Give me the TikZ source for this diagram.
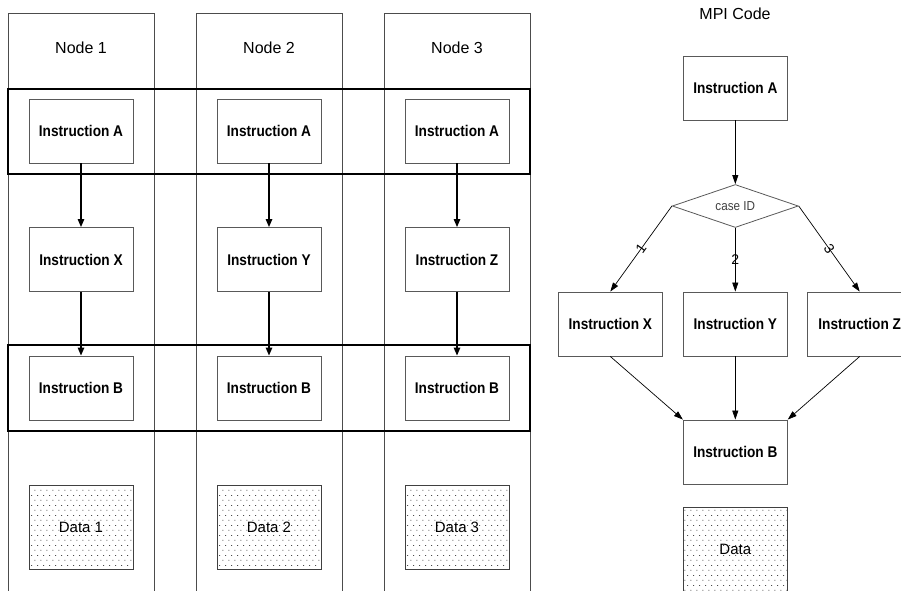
\documentclass[tikz,border=0pt]{standalone}
\usepackage{fontspec}
\setmainfont{Liberation Sans}
\newfontfamily\instrfont[FakeStretch=0.88]{Liberation Sans}
\newfontfamily\casefont[FakeStretch=0.9]{Liberation Sans}
\usetikzlibrary{shapes.geometric,arrows.meta,patterns.meta}

% fine staggered speckle used for the data blocks
\tikzdeclarepattern{
  name=speckle,
  type=uncolored,
  bounding box={(0pt,0pt) and (5.7pt,10pt)},
  tile size={(5.7pt,10pt)},
  code={
    \pgfpathrectangle{\pgfpoint{0.5pt}{0.5pt}}{\pgfpoint{0.9pt}{0.8pt}}
    \pgfpathrectangle{\pgfpoint{3.35pt}{5.5pt}}{\pgfpoint{0.9pt}{0.8pt}}
    \pgfusepath{fill}
  }
}

\begin{document}
\begin{tikzpicture}[x=1pt,y=-1pt,
  lanebox/.style={draw=black!70, line width=0.8pt},
  stage/.style={draw=black, line width=1.6pt},
  instr/.style={draw=black!65, line width=0.9pt, fill=white,
    minimum width=104pt, minimum height=64pt, inner sep=0pt,
    font=\instrfont\bfseries\fontsize{15.5}{18}\selectfont},
  databox/.style={draw=black!75, line width=0.9pt, pattern={speckle},
    pattern color=black!70, minimum width=104pt, minimum height=84pt,
    inner sep=0pt, font=\fontsize{15}{18}\selectfont},
  decide/.style={diamond, draw=black!65, line width=0.8pt, aspect=2.9,
    minimum width=126pt, minimum height=43pt, inner sep=0pt,
    font=\casefont\fontsize{13}{15}\selectfont, text=black!75},
  title/.style={font=\fontsize{16}{19}\selectfont},
  lbl/.style={font=\fontsize{14}{16}\selectfont, inner sep=0pt},
  flowL/.style={line width=1.3pt, -{Triangle[length=8pt,width=6.5pt]}},
  flowR/.style={line width=0.7pt, -{Triangle[length=9pt,width=6pt]}}
]
\useasboundingbox (0,0) rectangle (901,590);
\clip (0,0) rectangle (901,590);

% ---- per-node swim lanes ----
\foreach \i/\cx/\mid in {1/81/X, 2/269/Y, 3/457/Z} {
  \draw[lanebox] (\cx-73,595) -- (\cx-73,13.3) -- (\cx+73,13.3) -- (\cx+73,595);
  \draw[lanebox] (\cx-73,88.7) -- (\cx+73,88.7);
}

% common stages A and B across all nodes
\draw[stage] (8,88.7) rectangle (530,174);
\draw[stage] (8,345) rectangle (530,431);

\foreach \i/\cx/\mid in {1/81/X, 2/269/Y, 3/457/Z} {
  \node[title] (head\i) at (\cx,48) {Node \i};
  \node[instr] (a\i) at (\cx,131) {Instruction A};
  \node[instr] (m\i) at (\cx,259.5) {Instruction \mid};
  \node[instr] (b\i) at (\cx,388) {Instruction B};
  \node[databox] (d\i) at (\cx,527) {Data \i};
  \draw[flowL] (a\i) -- (m\i);
  \draw[flowL] (m\i) -- (b\i);
}

% ---- single MPI program ----
\node[title] (mpi) at (735,14) {MPI Code};
\node[instr] (ra) at (735.3,88) {Instruction A};
\node[decide] (case) at (735.3,206) {case ID};
\node[instr] (rx) at (610.3,324) {Instruction X};
\node[instr] (ry) at (735.3,324) {Instruction Y};
\node[instr] (rz) at (859.7,324) {Instruction Z};
\node[instr] (rb) at (735.3,452) {Instruction B};
\node[databox] (rd) at (735.3,549) {Data};

\draw[flowR] (ra) -- (case);
\draw[flowR] (case.west) -- node[lbl, sloped] {1} (rx.north);
\draw[flowR] (case.south) -- node[lbl] {2} (ry.north);
\draw[flowR] (case.east) -- node[lbl, sloped] {3} (rz.north);
\draw[flowR] (rx.south) -- (rb.north west);
\draw[flowR] (ry) -- (rb);
\draw[flowR] (rz.south) -- (rb.north east);
\end{tikzpicture}
\end{document}
